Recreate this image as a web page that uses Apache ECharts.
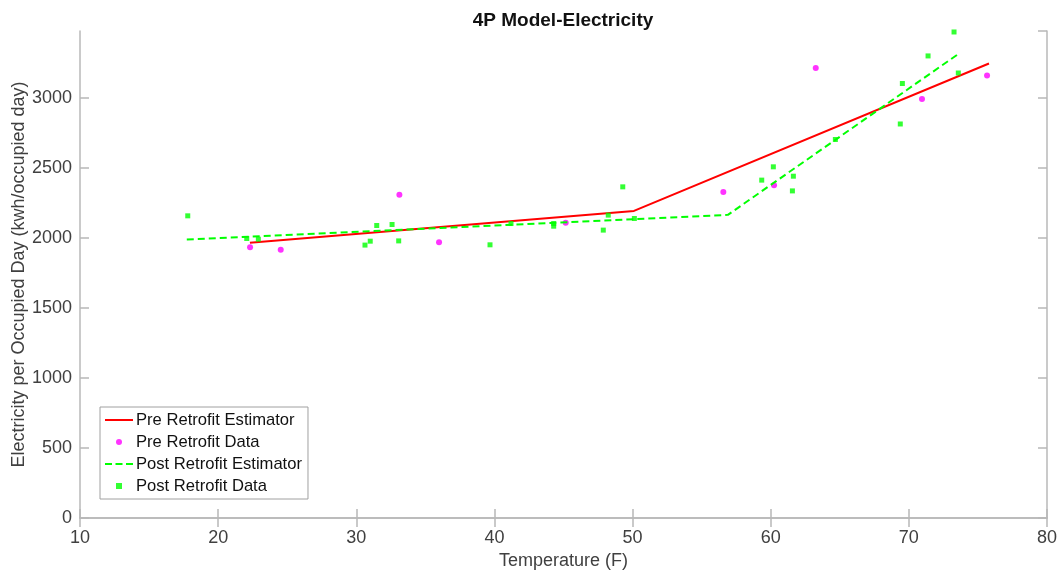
<!DOCTYPE html>
<html>
<head>
<meta charset="utf-8">
<script src="https://cdn.jsdelivr.net/npm/echarts@6/dist/echarts.min.js"></script>
<style>html,body{margin:0;padding:0;background:#fff}#c{width:1058px;height:573px}</style>
</head>
<body>
<div id="c"></div>
<script>
// ---- data ----
const titleText = '4P Model-Electricity';
const xName = 'Temperature (F)';
const yName = 'Electricity per Occupied Day (kwh/occupied day)';
const seriesNames = ['Pre Retrofit Estimator', 'Pre Retrofit Data', 'Post Retrofit Estimator', 'Post Retrofit Data'];

const preEstimator = [[22.3, 1966], [50.1, 2193], [75.8, 3246]];
const preData = [
  [22.31, 1934], [24.53, 1915], [33.12, 2308], [35.99, 1970], [45.16, 2108],
  [56.57, 2329], [60.24, 2377], [63.26, 3214], [70.95, 2993], [75.66, 3160]
];
const postEstimator = [[17.73, 1989], [56.9, 2165], [73.7, 3322]];
const postData = [
  [17.80, 2158], [22.07, 1996], [22.91, 1991], [30.63, 1949], [31.01, 1977],
  [31.48, 2089], [32.59, 2096], [33.07, 1979], [39.68, 1951], [41.20, 2103],
  [44.29, 2103], [44.29, 2084], [47.88, 2056], [48.24, 2163], [49.29, 2365],
  [50.13, 2139], [59.35, 2413], [60.19, 2508], [61.64, 2441], [61.57, 2336],
  [64.68, 2703], [69.38, 2814], [69.53, 3103], [71.39, 3300], [73.58, 3178],
  [73.27, 3471]
];
const xMin = 10, xMax = 80, xStep = 10;
const yMin = 0, yMax = 3478, yStep = 500;

// ---- chart ----
const axisGray = '#b8b8b8';
const textGray = '#404040';
const font = 'Liberation Sans, Arial, sans-serif';

const chart = echarts.init(document.getElementById('c'));
const baseAxisLine = { show: true, lineStyle: { color: axisGray, width: 1.5 } };
const tickIn = { show: true, inside: true, length: 9, lineStyle: { color: axisGray, width: 1.5 } };

chart.setOption({
  animation: false,
  backgroundColor: '#fff',
  title: {
    text: titleText, left: 558, top: 6, textAlign: 'center',
    textStyle: { fontFamily: font, fontSize: 19, fontWeight: 'bold', color: '#111' }
  },
  grid: { left: 80, right: 11, top: 31, bottom: 55, containLabel: false, outerBoundsMode: 'none' },
  legend: {
    orient: 'vertical', left: 100, top: 407,
    padding: [2, 6, 2, 5],
    itemWidth: 28, itemHeight: 6, itemGap: 0,
    symbolKeepAspect: true,
    backgroundColor: '#fff', borderColor: '#a0a0a0', borderWidth: 1,
    textStyle: { fontFamily: font, fontSize: 16.6, color: '#111', lineHeight: 22, padding: [0, 0, 0, -2] },
    data: [
      { name: seriesNames[0], icon: 'path://M0,0h28v2h-28z', itemStyle: { color: '#ff0000' } },
      { name: seriesNames[1], icon: 'circle', itemStyle: { color: '#ff00ff' } },
      { name: seriesNames[2], icon: 'path://M0,0h7v2h-7zM10.5,0h7v2h-7zM21,0h7v2h-7z', itemStyle: { color: '#00ff00' } },
      { name: seriesNames[3], icon: 'path://M0,0h5v5h-5z', itemStyle: { color: '#00ff00' } }
    ]
  },
  xAxis: [
    {
      type: 'value', min: xMin, max: xMax, interval: xStep,
      name: xName, nameLocation: 'middle', nameGap: 34, nameMoveOverlap: false,
      nameTextStyle: { fontFamily: font, fontSize: 18, color: textGray },
      axisLine: baseAxisLine, axisTick: tickIn, splitLine: { show: false },
      axisLabel: { fontFamily: font, fontSize: 18, color: textGray, margin: 11 }
    },
    {
      type: 'value', position: 'top', min: xMin, max: xMax, interval: xStep,
      axisLine: baseAxisLine, axisTick: tickIn, splitLine: { show: false },
      axisLabel: { show: false }
    }
  ],
  yAxis: [
    {
      type: 'value', min: yMin, max: yMax, interval: yStep,
      name: yName, nameLocation: 'middle', nameGap: 52, nameRotate: 90, nameMoveOverlap: false,
      nameTextStyle: { fontFamily: font, fontSize: 18, color: textGray },
      axisLine: baseAxisLine, axisTick: tickIn, splitLine: { show: false },
      axisLabel: { fontFamily: font, fontSize: 18, color: textGray, margin: 8, showMaxLabel: false,
        formatter: function (v) { return String(v); } }
    },
    {
      type: 'value', position: 'right', min: yMin, max: yMax, interval: yStep,
      axisLine: baseAxisLine, axisTick: tickIn, splitLine: { show: false },
      axisLabel: { show: false }
    }
  ],
  series: [
    {
      name: seriesNames[0], type: 'line', data: preEstimator, symbol: 'none', showSymbol: false,
      lineStyle: { color: '#ff0000', width: 2 }, itemStyle: { color: '#ff0000' }, z: 2
    },
    {
      name: seriesNames[1], type: 'scatter', data: preData, symbol: 'circle', symbolSize: 6,
      itemStyle: { color: '#ff00ff' }, z: 3
    },
    {
      name: seriesNames[2], type: 'line', data: postEstimator, symbol: 'none', showSymbol: false,
      lineStyle: { color: '#00ff00', width: 2, type: [7, 4] }, itemStyle: { color: '#00ff00' }, z: 4
    },
    {
      name: seriesNames[3], type: 'scatter', data: postData, symbol: 'rect', symbolSize: 5,
      itemStyle: { color: '#00ff00' }, z: 5
    }
  ]
});
</script>
</body>
</html>
